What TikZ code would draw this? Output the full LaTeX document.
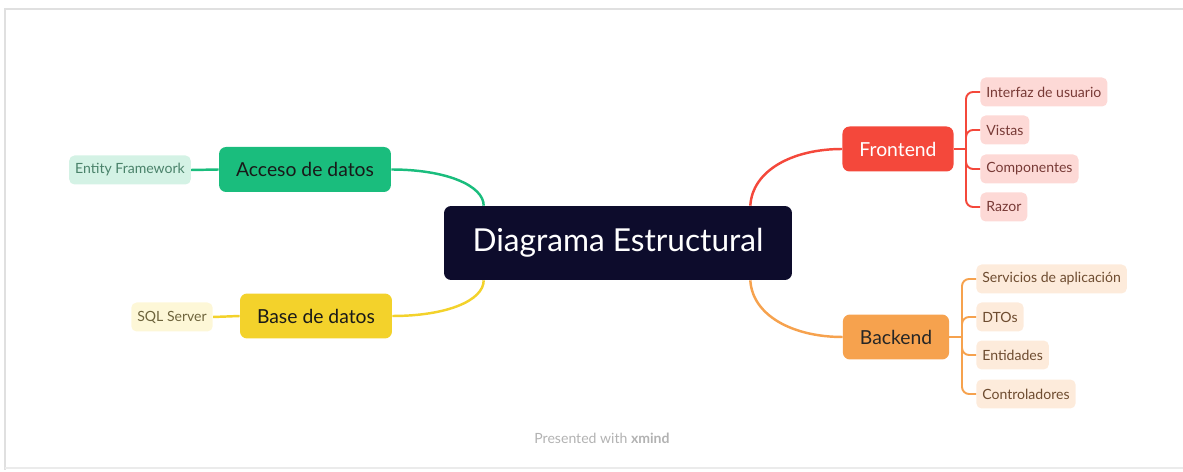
\documentclass[tikz,border=0pt]{standalone}
\usepackage{fontspec}
\setmainfont{Lato}
\usepackage{tikz}
\usetikzlibrary{positioning,calc}
\definecolor{navy}{RGB}{13,12,44}
\definecolor{mgreen}{RGB}{26,189,125}
\definecolor{lgreen}{RGB}{212,242,229}
\definecolor{tgreen}{RGB}{74,130,106}
\definecolor{myellow}{RGB}{243,210,43}
\definecolor{lyellow}{RGB}{253,247,215}
\definecolor{tyellow}{RGB}{110,100,60}
\definecolor{mred}{RGB}{244,72,59}
\definecolor{lred}{RGB}{253,217,214}
\definecolor{tred}{RGB}{120,58,54}
\definecolor{morange}{RGB}{246,162,78}
\definecolor{lorange}{RGB}{253,235,219}
\definecolor{torange}{RGB}{110,76,48}

\begin{document}
\begin{tikzpicture}[x=0.02cm, y=-0.02cm,
  topic/.style={rectangle, fill=navy, rounded corners=4pt, text=white, font=\fontsize{18}{21}\selectfont, minimum width=6.96cm, minimum height=1.48cm},
  branch/.style={rectangle, fill=#1, rounded corners=4pt, font=\fontsize{11}{13}\selectfont, minimum height=0.9cm, inner xsep=0.34cm},
  leaf/.style={rectangle, fill=#1, rounded corners=3pt, font=\fontsize{8}{10}\selectfont, minimum height=0.58cm, inner xsep=0.12cm},
  link/.style={draw=#1, line width=1.4pt},
  spine/.style={draw=#1, line width=1.1pt, rounded corners=4pt}
]
  \useasboundingbox (0,0) rectangle (1183,472);
  \draw[black!12, line width=1.5pt] (5,470) -- (5,9) -- (1190,9);
  \draw[black!8, line width=1.5pt] (5,468) -- (1190,468);

  \node[topic] (central) at (618,243) {Diagrama Estructural};

  \node[branch=mgreen, text=black!90] (acceso) at (305,169.5) {Acceso de datos};
  \node[leaf=lgreen, text=tgreen] (ef) at (130,170) {Entity Framework};
  \node[branch=myellow, text=black!90] (base) at (316,316) {Base de datos};
  \node[leaf=lyellow, text=tyellow] (sql) at (172,317) {SQL Server};

  \node[branch=mred, text=white] (front) at (898,149) {Frontend};
  \node[branch=morange, text=black!85] (back) at (896,337) {Backend};

  \node[leaf=lred, text=tred, anchor=west] (ui) at (980,92) {Interfaz de usuario};
  \node[leaf=lred, text=tred, anchor=west] (vistas) at (980,130) {Vistas};
  \node[leaf=lred, text=tred, anchor=west] (comp) at (980,169) {Componentes};
  \node[leaf=lred, text=tred, anchor=west] (razor) at (980,207) {Razor};

  \node[leaf=lorange, text=torange, anchor=west] (serv) at (976,279) {Servicios de aplicación};
  \node[leaf=lorange, text=torange, anchor=west] (dtos) at (976,317) {DTOs};
  \node[leaf=lorange, text=torange, anchor=west] (ent) at (976,355) {Entidades};
  \node[leaf=lorange, text=torange, anchor=west] (ctrl) at (976,394) {Controladores};

  \coordinate (cnw) at ($(central.north west)+(40,0)$);
  \coordinate (csw) at ($(central.south west)+(40,0)$);
  \coordinate (cne) at ($(central.north east)+(-42,0)$);
  \coordinate (cse) at ($(central.south east)+(-42,0)$);

  \draw[link=mgreen] (acceso.east) .. controls +(55,0) and +(0,-20) .. (cnw);
  \draw[link=myellow] (base.east) .. controls +(55,0) and +(0,20) .. (csw);
  \draw[link=mred] (cne) .. controls +(2,-35) and +(-50,0) .. (front.west);
  \draw[link=morange] (cse) .. controls +(2,35) and +(-50,0) .. (back.west);

  \draw[link=mgreen] (ef.east) -- (acceso.west);
  \draw[link=myellow] (sql.east) -- (base.west);

  \coordinate (fs) at (966,149);
  \draw[link=mred, line width=1.1pt] (front.east) -- (fs);
  \foreach \n in {ui,vistas,comp,razor}
    \draw[spine=mred] (fs) |- (\n.west);

  \coordinate (bs) at (962,337);
  \draw[link=morange, line width=1.1pt] (back.east) -- (bs);
  \foreach \n in {serv,dtos,ent,ctrl}
    \draw[spine=morange] (bs) |- (\n.west);

  \node[text=black!30, font=\fontsize{8}{10}\selectfont] (credit) at (602,438) {Presented with \textbf{xmind}};
\end{tikzpicture}
\end{document}
